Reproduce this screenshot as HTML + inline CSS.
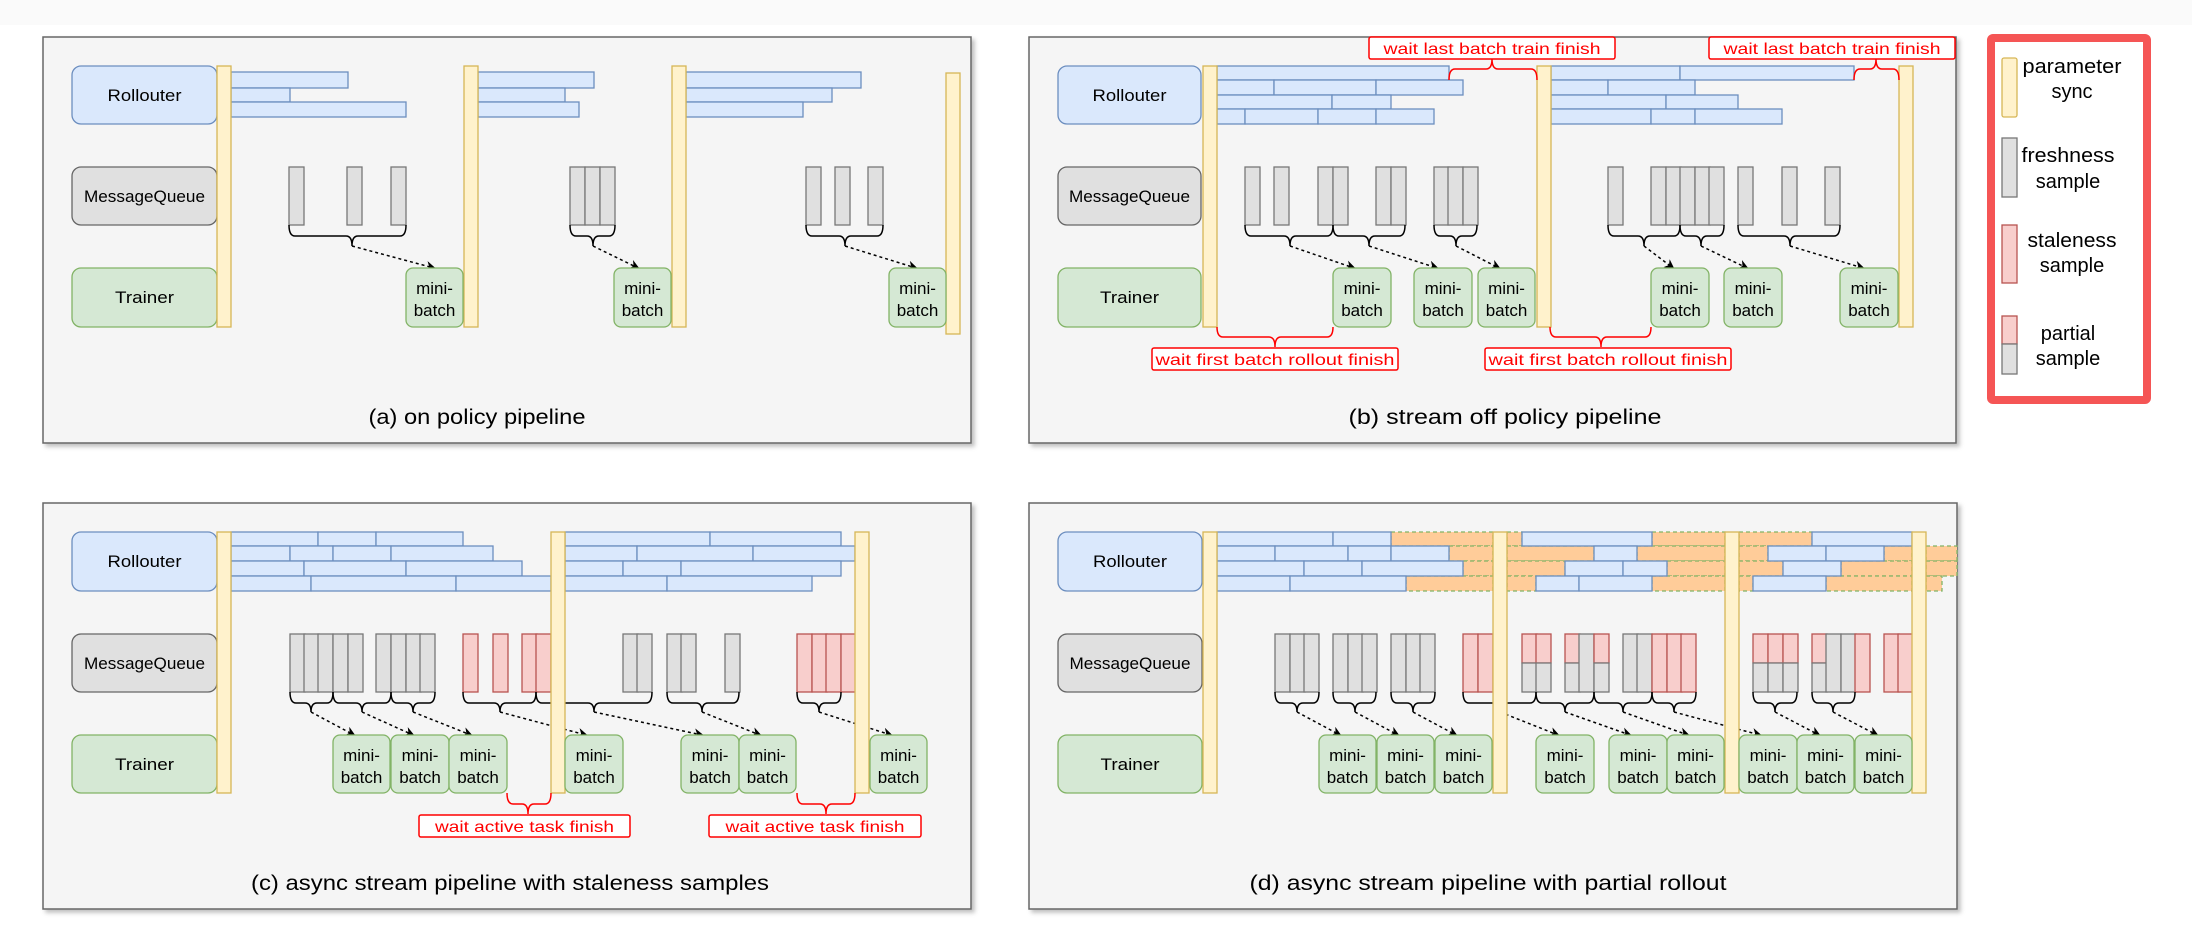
<!DOCTYPE html>
<html><head><meta charset="utf-8"><style>
html,body{margin:0;padding:0;background:#fff}
svg{display:block}
text{font-family:"Liberation Sans",sans-serif;fill:#000}
.pn{fill:#f5f5f5;stroke:#666;stroke-width:1.5}
.b{fill:#dae8fc;stroke:#6c8ebf;stroke-width:1.3}
.g{fill:#e0e0e0;stroke:#777;stroke-width:1.3}
.r{fill:#f8cecc;stroke:#b85450;stroke-width:1.3}
.y{fill:#fff2cc;stroke:#d6b656;stroke-width:1.3}
.t{fill:#d5e8d4;stroke:#82b366;stroke-width:1.3}
.q{fill:#e0e0e0;stroke:#666;stroke-width:1.3}
.o{fill:#ffcc99;stroke:#82b366;stroke-width:1.3;stroke-dasharray:4 3}
.br{fill:none;stroke:#000;stroke-width:1.5}
.ar{stroke:#000;stroke-width:1.5;stroke-dasharray:3 3;marker-end:url(#ah)}
.rb{fill:none;stroke:#f00;stroke-width:1.5}
.rl{fill:#fff;stroke:#f00;stroke-width:1.5}
.rt{fill:#f00;font-size:16px}
.lb{font-size:17px}
.mb{font-size:17px}
.cap{font-size:21px}
.lg{font-size:20px}
</style></head><body>
<svg width="2192" height="938" viewBox="0 0 2192 938" xmlns="http://www.w3.org/2000/svg">
<defs>
<marker id="ah" markerWidth="10" markerHeight="10" refX="8" refY="5" orient="auto" markerUnits="userSpaceOnUse"><path d="M0,0 L10,5 L0,10 L3,5 Z" fill="#000"/></marker>
<filter id="sh" x="-5%" y="-5%" width="110%" height="115%"><feDropShadow dx="3" dy="3" stdDeviation="2" flood-color="#000" flood-opacity="0.25"/></filter>
</defs>
<rect x="0" y="0" width="2192" height="25" fill="#fafafa"/>

<!-- ================= PANEL A ================= -->
<rect class="pn" x="43" y="37" width="928" height="406" filter="url(#sh)"/>
<rect class="b" x="72" y="66" width="145" height="58" rx="9"/>
<rect class="q" x="72" y="167" width="145" height="58" rx="9"/>
<rect class="t" x="72" y="268" width="145" height="59" rx="9"/>
<text class="lb" x="144.5" y="101" text-anchor="middle" textLength="74" lengthAdjust="spacingAndGlyphs">Rollouter</text>
<text class="lb" x="144.5" y="202" text-anchor="middle" textLength="121" lengthAdjust="spacingAndGlyphs" fill="#333">MessageQueue</text>
<text class="lb" x="144.5" y="303" text-anchor="middle" textLength="59" lengthAdjust="spacingAndGlyphs">Trainer</text>
<rect class="b" x="231" y="72" width="117" height="16"/><rect class="b" x="231" y="88" width="59" height="14"/><rect class="b" x="231" y="102" width="175" height="15"/>
<rect class="b" x="478" y="72" width="116" height="16"/><rect class="b" x="478" y="88" width="87" height="14"/><rect class="b" x="478" y="102" width="101" height="15"/>
<rect class="b" x="686" y="72" width="175" height="16"/><rect class="b" x="686" y="88" width="146" height="14"/><rect class="b" x="686" y="102" width="117" height="15"/>
<rect class="y" x="217" y="66" width="14" height="261"/><rect class="y" x="464" y="66" width="14" height="261"/><rect class="y" x="672" y="66" width="14" height="261"/><rect class="y" x="946" y="73" width="14" height="261"/>
<g>
<rect class="g" x="289" y="167" width="15" height="58"/><rect class="g" x="347" y="167" width="15" height="58"/><rect class="g" x="391" y="167" width="15" height="58"/>
<rect class="g" x="570" y="167" width="15" height="58"/><rect class="g" x="585" y="167" width="15" height="58"/><rect class="g" x="600" y="167" width="15" height="58"/>
<rect class="g" x="806" y="167" width="15" height="58"/><rect class="g" x="835" y="167" width="15" height="58"/><rect class="g" x="868" y="167" width="15" height="58"/>
</g>
<path class="br" d="M289,225 Q289,236 295,236 L346,236 Q352,236 352,246 Q352,236 358,236 L400,236 Q406,236 406,225"/>
<path class="br" d="M570,225 Q570,236 576,236 L587,236 Q593,236 593,246 Q593,236 599,236 L609,236 Q615,236 615,225"/>
<path class="br" d="M806,225 Q806,236 812,236 L839,236 Q845,236 845,246 Q845,236 851,236 L877,236 Q883,236 883,225"/>
<line class="ar" x1="352" y1="246" x2="434" y2="268"/><line class="ar" x1="593" y1="246" x2="638" y2="268"/><line class="ar" x1="845" y1="246" x2="916" y2="268"/>
<rect class="t" x="406" y="268" width="57" height="59" rx="7"/><rect class="t" x="614" y="268" width="57" height="59" rx="7"/><rect class="t" x="889" y="268" width="57" height="59" rx="7"/>
<g class="mb" text-anchor="middle">
<text x="434.5" y="294">mini-</text><text x="434.5" y="316">batch</text>
<text x="642.5" y="294">mini-</text><text x="642.5" y="316">batch</text>
<text x="917.5" y="294">mini-</text><text x="917.5" y="316">batch</text>
</g>
<text class="cap" x="477" y="424" text-anchor="middle" textLength="217" lengthAdjust="spacingAndGlyphs">(a) on policy pipeline</text>

<!-- ================= PANEL B ================= -->
<rect class="pn" x="1029" y="37" width="927" height="406" filter="url(#sh)"/>
<rect class="b" x="1058" y="66" width="143" height="58" rx="9"/>
<rect class="q" x="1058" y="167" width="143" height="58" rx="9"/>
<rect class="t" x="1058" y="268" width="143" height="59" rx="9"/>
<text class="lb" x="1129.5" y="101" text-anchor="middle" textLength="74" lengthAdjust="spacingAndGlyphs">Rollouter</text>
<text class="lb" x="1129.5" y="202" text-anchor="middle" textLength="121" lengthAdjust="spacingAndGlyphs" fill="#333">MessageQueue</text>
<text class="lb" x="1129.5" y="303" text-anchor="middle" textLength="59" lengthAdjust="spacingAndGlyphs">Trainer</text>
<rect class="b" x="1217" y="66" width="232" height="14"/>
<rect class="b" x="1217" y="80" width="57" height="15"/><rect class="b" x="1274" y="80" width="102" height="15"/><rect class="b" x="1376" y="80" width="87" height="15"/>
<rect class="b" x="1217" y="95" width="115" height="14"/><rect class="b" x="1332" y="95" width="59" height="14"/>
<rect class="b" x="1217" y="109" width="28" height="15"/><rect class="b" x="1245" y="109" width="73" height="15"/><rect class="b" x="1318" y="109" width="58" height="15"/><rect class="b" x="1376" y="109" width="58" height="15"/>
<rect class="b" x="1551" y="66" width="129" height="14"/><rect class="b" x="1680" y="66" width="174" height="14"/>
<rect class="b" x="1551" y="80" width="57" height="15"/><rect class="b" x="1608" y="80" width="87" height="15"/>
<rect class="b" x="1551" y="95" width="115" height="14"/><rect class="b" x="1666" y="95" width="72" height="14"/>
<rect class="b" x="1551" y="109" width="100" height="15"/><rect class="b" x="1651" y="109" width="44" height="15"/><rect class="b" x="1695" y="109" width="87" height="15"/>
<rect class="y" x="1203" y="66" width="14" height="261"/><rect class="y" x="1537" y="66" width="14" height="261"/><rect class="y" x="1899" y="66" width="14" height="261"/>
<g>
<rect class="g" x="1245" y="167" width="15" height="58"/><rect class="g" x="1274" y="167" width="15" height="58"/><rect class="g" x="1318" y="167" width="15" height="58"/><rect class="g" x="1333" y="167" width="15" height="58"/><rect class="g" x="1376" y="167" width="15" height="58"/><rect class="g" x="1391" y="167" width="15" height="58"/><rect class="g" x="1434" y="167" width="15" height="58"/><rect class="g" x="1448" y="167" width="15" height="58"/><rect class="g" x="1463" y="167" width="15" height="58"/>
<rect class="g" x="1608" y="167" width="15" height="58"/><rect class="g" x="1651" y="167" width="15" height="58"/><rect class="g" x="1666" y="167" width="15" height="58"/><rect class="g" x="1680" y="167" width="15" height="58"/><rect class="g" x="1695" y="167" width="15" height="58"/><rect class="g" x="1709" y="167" width="15" height="58"/><rect class="g" x="1738" y="167" width="15" height="58"/><rect class="g" x="1782" y="167" width="15" height="58"/><rect class="g" x="1825" y="167" width="15" height="58"/>
</g>
<path class="br" d="M1245,225 Q1245,236 1251,236 L1284,236 Q1290,236 1290,246 Q1290,236 1296,236 L1327,236 Q1333,236 1333,225"/>
<path class="br" d="M1333,225 Q1333,236 1339,236 L1363,236 Q1369,236 1369,246 Q1369,236 1375,236 L1399,236 Q1405,236 1405,225"/>
<path class="br" d="M1434,225 Q1434,236 1440,236 L1450,236 Q1456,236 1456,246 Q1456,236 1462,236 L1471,236 Q1477,236 1477,225"/>
<path class="br" d="M1608,225 Q1608,236 1614,236 L1638,236 Q1644,236 1644,246 Q1644,236 1650,236 L1674,236 Q1680,236 1680,225"/>
<path class="br" d="M1680,225 Q1680,236 1686,236 L1695,236 Q1701,236 1701,246 Q1701,236 1707,236 L1718,236 Q1724,236 1724,225"/>
<path class="br" d="M1738,225 Q1738,236 1744,236 L1784,236 Q1790,236 1790,246 Q1790,236 1796,236 L1834,236 Q1840,236 1840,225"/>
<line class="ar" x1="1290" y1="246" x2="1354" y2="268"/><line class="ar" x1="1369" y1="246" x2="1437" y2="268"/><line class="ar" x1="1456" y1="246" x2="1499" y2="268"/>
<line class="ar" x1="1644" y1="246" x2="1673" y2="268"/><line class="ar" x1="1701" y1="246" x2="1747" y2="268"/><line class="ar" x1="1790" y1="246" x2="1863" y2="268"/>
<rect class="t" x="1333" y="268" width="58" height="59" rx="7"/><rect class="t" x="1414" y="268" width="58" height="59" rx="7"/><rect class="t" x="1478" y="268" width="57" height="59" rx="7"/>
<rect class="t" x="1651" y="268" width="58" height="59" rx="7"/><rect class="t" x="1724" y="268" width="58" height="59" rx="7"/><rect class="t" x="1840" y="268" width="58" height="59" rx="7"/>
<g class="mb" text-anchor="middle">
<text x="1362" y="294">mini-</text><text x="1362" y="316">batch</text>
<text x="1443" y="294">mini-</text><text x="1443" y="316">batch</text>
<text x="1506.5" y="294">mini-</text><text x="1506.5" y="316">batch</text>
<text x="1680" y="294">mini-</text><text x="1680" y="316">batch</text>
<text x="1753" y="294">mini-</text><text x="1753" y="316">batch</text>
<text x="1869" y="294">mini-</text><text x="1869" y="316">batch</text>
</g>
<path class="rb" d="M1449,80 Q1449,69 1455,69 L1486,69 Q1492,69 1492,59 Q1492,69 1498,69 L1531,69 Q1537,69 1537,80"/>
<path class="rb" d="M1854,80 Q1854,69 1860,69 L1870,69 Q1876,69 1876,59 Q1876,69 1882,69 L1893,69 Q1899,69 1899,80"/>
<rect class="rl" x="1369" y="37" width="246" height="22" rx="2"/><rect class="rl" x="1709" y="37" width="246" height="22" rx="2"/>
<text class="rt" x="1492" y="54" text-anchor="middle" textLength="217" lengthAdjust="spacingAndGlyphs">wait last batch train finish</text>
<text class="rt" x="1832" y="54" text-anchor="middle" textLength="217" lengthAdjust="spacingAndGlyphs">wait last batch train finish</text>
<path class="rb" d="M1217,327 Q1217,337 1223,337 L1269,337 Q1275,337 1275,347 Q1275,337 1281,337 L1327,337 Q1333,337 1333,327"/>
<path class="rb" d="M1550,327 Q1550,337 1556,337 L1595,337 Q1601,337 1601,347 Q1601,337 1607,337 L1645,337 Q1651,337 1651,327"/>
<rect class="rl" x="1152" y="348" width="246" height="22" rx="2"/><rect class="rl" x="1485" y="348" width="246" height="22" rx="2"/>
<text class="rt" x="1275" y="365" text-anchor="middle" textLength="239" lengthAdjust="spacingAndGlyphs">wait first batch rollout finish</text>
<text class="rt" x="1608" y="365" text-anchor="middle" textLength="239" lengthAdjust="spacingAndGlyphs">wait first batch rollout finish</text>
<text class="cap" x="1505" y="424" text-anchor="middle" textLength="313" lengthAdjust="spacingAndGlyphs">(b) stream off policy pipeline</text>

<!-- ================= LEGEND ================= -->
<rect x="1991" y="38" width="156" height="362" fill="#fff" stroke="#f55555" stroke-width="8" rx="2"/>
<rect class="y" x="2002" y="58" width="15" height="59" rx="2"/>
<rect class="g" x="2002" y="138" width="15" height="59"/>
<rect class="r" x="2002" y="225" width="15" height="58"/>
<rect class="r" x="2002" y="316" width="15" height="28"/><rect class="g" x="2002" y="344" width="15" height="30"/>
<g class="lg" text-anchor="middle">
<text x="2072" y="73" textLength="99" lengthAdjust="spacingAndGlyphs">parameter</text><text x="2072" y="98">sync</text>
<text x="2068" y="162" textLength="93" lengthAdjust="spacingAndGlyphs">freshness</text><text x="2068" y="188">sample</text>
<text x="2072" y="247" textLength="89" lengthAdjust="spacingAndGlyphs">staleness</text><text x="2072" y="272">sample</text>
<text x="2068" y="340">partial</text><text x="2068" y="365">sample</text>
</g>

<!-- ================= PANEL C ================= -->
<rect class="pn" x="43" y="503" width="928" height="406" filter="url(#sh)"/>
<rect class="b" x="72" y="532" width="145" height="59" rx="9"/>
<rect class="q" x="72" y="634" width="145" height="58" rx="9"/>
<rect class="t" x="72" y="735" width="145" height="58" rx="9"/>
<text class="lb" x="144.5" y="567" text-anchor="middle" textLength="74" lengthAdjust="spacingAndGlyphs">Rollouter</text>
<text class="lb" x="144.5" y="669" text-anchor="middle" textLength="121" lengthAdjust="spacingAndGlyphs" fill="#333">MessageQueue</text>
<text class="lb" x="144.5" y="770" text-anchor="middle" textLength="59" lengthAdjust="spacingAndGlyphs">Trainer</text>
<rect class="b" x="231" y="532" width="87" height="14"/><rect class="b" x="318" y="532" width="58" height="14"/><rect class="b" x="376" y="532" width="87" height="14"/>
<rect class="b" x="231" y="546" width="59" height="15"/><rect class="b" x="290" y="546" width="43" height="15"/><rect class="b" x="333" y="546" width="58" height="15"/><rect class="b" x="391" y="546" width="102" height="15"/>
<rect class="b" x="231" y="561" width="73" height="15"/><rect class="b" x="304" y="561" width="102" height="15"/><rect class="b" x="406" y="561" width="116" height="15"/>
<rect class="b" x="231" y="576" width="80" height="15"/><rect class="b" x="311" y="576" width="145" height="15"/><rect class="b" x="456" y="576" width="95" height="15"/>
<rect class="b" x="565" y="532" width="145" height="14"/><rect class="b" x="710" y="532" width="131" height="14"/>
<rect class="b" x="565" y="546" width="72" height="15"/><rect class="b" x="637" y="546" width="116" height="15"/><rect class="b" x="753" y="546" width="102" height="15"/>
<rect class="b" x="565" y="561" width="58" height="15"/><rect class="b" x="623" y="561" width="58" height="15"/><rect class="b" x="681" y="561" width="160" height="15"/>
<rect class="b" x="565" y="576" width="102" height="15"/><rect class="b" x="667" y="576" width="145" height="15"/>
<g>
<rect class="g" x="290" y="634" width="15" height="58"/><rect class="g" x="304" y="634" width="15" height="58"/><rect class="g" x="318" y="634" width="15" height="58"/><rect class="g" x="333" y="634" width="15" height="58"/><rect class="g" x="348" y="634" width="15" height="58"/>
<rect class="g" x="376" y="634" width="15" height="58"/><rect class="g" x="391" y="634" width="15" height="58"/><rect class="g" x="406" y="634" width="15" height="58"/><rect class="g" x="420" y="634" width="15" height="58"/>
<rect class="r" x="463" y="634" width="15" height="58"/><rect class="r" x="493" y="634" width="15" height="58"/><rect class="r" x="522" y="634" width="15" height="58"/><rect class="r" x="536" y="634" width="15" height="58"/>
<rect class="g" x="623" y="634" width="15" height="58"/><rect class="g" x="637" y="634" width="15" height="58"/><rect class="g" x="667" y="634" width="15" height="58"/><rect class="g" x="681" y="634" width="15" height="58"/><rect class="g" x="725" y="634" width="15" height="58"/>
<rect class="r" x="797" y="634" width="15" height="58"/><rect class="r" x="812" y="634" width="15" height="58"/><rect class="r" x="826" y="634" width="15" height="58"/><rect class="r" x="841" y="634" width="15" height="58"/>
</g>
<path class="br" d="M290,692 Q290,703 296,703 L305,703 Q311,703 311,712 Q311,703 317,703 L327,703 Q333,703 333,692"/>
<path class="br" d="M333,692 Q333,703 339,703 L356,703 Q362,703 362,712 Q362,703 368,703 L385,703 Q391,703 391,692"/>
<path class="br" d="M391,692 Q391,703 397,703 L407,703 Q413,703 413,712 Q413,703 419,703 L429,703 Q435,703 435,692"/>
<path class="br" d="M463,692 Q463,703 469,703 L494,703 Q500,703 500,712 Q500,703 506,703 L530,703 Q536,703 536,692"/>
<path class="br" d="M536,692 Q536,703 542,703 L588,703 Q594,703 594,712 Q594,703 600,703 L646,703 Q652,703 652,692"/>
<path class="br" d="M667,692 Q667,703 673,703 L696,703 Q702,703 702,712 Q702,703 708,703 L733,703 Q739,703 739,692"/>
<path class="br" d="M797,692 Q797,703 803,703 L813,703 Q819,703 819,712 Q819,703 825,703 L835,703 Q841,703 841,692"/>
<line class="ar" x1="311" y1="712" x2="354" y2="735"/><line class="ar" x1="362" y1="712" x2="413" y2="735"/><line class="ar" x1="413" y1="712" x2="471" y2="735"/>
<line class="ar" x1="500" y1="712" x2="586" y2="735"/><line class="ar" x1="594" y1="712" x2="702" y2="735"/><line class="ar" x1="702" y1="712" x2="760" y2="735"/><line class="ar" x1="819" y1="712" x2="891" y2="735"/>
<rect class="y" x="217" y="532" width="14" height="261"/><rect class="y" x="551" y="532" width="14" height="261"/><rect class="y" x="855" y="532" width="14" height="261"/>
<rect class="t" x="333" y="735" width="57" height="58" rx="7"/><rect class="t" x="391" y="735" width="58" height="58" rx="7"/><rect class="t" x="449" y="735" width="58" height="58" rx="7"/>
<rect class="t" x="565" y="735" width="58" height="58" rx="7"/><rect class="t" x="681" y="735" width="58" height="58" rx="7"/><rect class="t" x="739" y="735" width="57" height="58" rx="7"/><rect class="t" x="870" y="735" width="57" height="58" rx="7"/>
<g class="mb" text-anchor="middle">
<text x="361.5" y="761">mini-</text><text x="361.5" y="783">batch</text>
<text x="420" y="761">mini-</text><text x="420" y="783">batch</text>
<text x="478" y="761">mini-</text><text x="478" y="783">batch</text>
<text x="594" y="761">mini-</text><text x="594" y="783">batch</text>
<text x="710" y="761">mini-</text><text x="710" y="783">batch</text>
<text x="767.5" y="761">mini-</text><text x="767.5" y="783">batch</text>
<text x="898.5" y="761">mini-</text><text x="898.5" y="783">batch</text>
</g>
<path class="rb" d="M507,793 Q507,804 513,804 L522,804 Q528,804 528,814 Q528,804 534,804 L545,804 Q551,804 551,793"/>
<path class="rb" d="M797,793 Q797,804 803,804 L820,804 Q826,804 826,814 Q826,804 832,804 L849,804 Q855,804 855,793"/>
<rect class="rl" x="419" y="815" width="211" height="22" rx="2"/><rect class="rl" x="709" y="815" width="212" height="22" rx="2"/>
<text class="rt" x="524.5" y="832" text-anchor="middle" textLength="179" lengthAdjust="spacingAndGlyphs">wait active task finish</text>
<text class="rt" x="815" y="832" text-anchor="middle" textLength="179" lengthAdjust="spacingAndGlyphs">wait active task finish</text>
<text class="cap" x="510" y="890" text-anchor="middle" textLength="518" lengthAdjust="spacingAndGlyphs">(c) async stream pipeline with staleness samples</text>

<!-- ================= PANEL D ================= -->
<rect class="pn" x="1029" y="503" width="928" height="406" filter="url(#sh)"/>
<rect class="b" x="1058" y="532" width="144" height="59" rx="9"/>
<rect class="q" x="1058" y="634" width="144" height="58" rx="9"/>
<rect class="t" x="1058" y="735" width="144" height="58" rx="9"/>
<text class="lb" x="1130" y="567" text-anchor="middle" textLength="74" lengthAdjust="spacingAndGlyphs">Rollouter</text>
<text class="lb" x="1130" y="669" text-anchor="middle" textLength="121" lengthAdjust="spacingAndGlyphs" fill="#333">MessageQueue</text>
<text class="lb" x="1130" y="770" text-anchor="middle" textLength="59" lengthAdjust="spacingAndGlyphs">Trainer</text>
<!-- orange partial regions -->
<g>
<rect class="o" x="1391" y="532" width="102" height="14"/><rect class="o" x="1507" y="532" width="15" height="14"/>
<rect class="o" x="1449" y="546" width="44" height="15"/><rect class="o" x="1507" y="546" width="87" height="15"/>
<rect class="o" x="1463" y="561" width="30" height="15"/><rect class="o" x="1507" y="561" width="58" height="15"/>
<rect class="o" x="1406" y="576" width="87" height="15"/><rect class="o" x="1507" y="576" width="29" height="15"/>
<rect class="o" x="1652" y="532" width="73" height="14"/><rect class="o" x="1739" y="532" width="73" height="14"/>
<rect class="o" x="1637" y="546" width="88" height="15"/><rect class="o" x="1739" y="546" width="29" height="15"/>
<rect class="o" x="1667" y="561" width="58" height="15"/><rect class="o" x="1739" y="561" width="44" height="15"/>
<rect class="o" x="1652" y="576" width="73" height="15"/><rect class="o" x="1739" y="576" width="14" height="15"/>
<rect class="o" x="1884" y="546" width="28" height="15"/><rect class="o" x="1926" y="546" width="31" height="15"/>
<rect class="o" x="1841" y="561" width="71" height="15"/><rect class="o" x="1926" y="561" width="31" height="15"/>
<rect class="o" x="1826" y="576" width="86" height="15"/><rect class="o" x="1926" y="576" width="16" height="15"/>
</g>
<rect class="b" x="1217" y="532" width="116" height="14"/><rect class="b" x="1333" y="532" width="58" height="14"/>
<rect class="b" x="1217" y="546" width="58" height="15"/><rect class="b" x="1275" y="546" width="73" height="15"/><rect class="b" x="1348" y="546" width="43" height="15"/><rect class="b" x="1391" y="546" width="58" height="15"/>
<rect class="b" x="1217" y="561" width="87" height="15"/><rect class="b" x="1304" y="561" width="58" height="15"/><rect class="b" x="1362" y="561" width="101" height="15"/>
<rect class="b" x="1217" y="576" width="73" height="15"/><rect class="b" x="1290" y="576" width="116" height="15"/>
<rect class="b" x="1522" y="532" width="130" height="14"/>
<rect class="b" x="1594" y="546" width="43" height="15"/>
<rect class="b" x="1565" y="561" width="58" height="15"/><rect class="b" x="1623" y="561" width="44" height="15"/>
<rect class="b" x="1536" y="576" width="43" height="15"/><rect class="b" x="1579" y="576" width="73" height="15"/>
<rect class="b" x="1812" y="532" width="100" height="14"/>
<rect class="b" x="1768" y="546" width="58" height="15"/><rect class="b" x="1826" y="546" width="58" height="15"/>
<rect class="b" x="1783" y="561" width="58" height="15"/>
<rect class="b" x="1753" y="576" width="73" height="15"/>
<g>
<rect class="g" x="1275" y="634" width="15" height="58"/><rect class="g" x="1290" y="634" width="15" height="58"/><rect class="g" x="1304" y="634" width="15" height="58"/>
<rect class="g" x="1333" y="634" width="15" height="58"/><rect class="g" x="1348" y="634" width="15" height="58"/><rect class="g" x="1362" y="634" width="15" height="58"/>
<rect class="g" x="1391" y="634" width="15" height="58"/><rect class="g" x="1406" y="634" width="15" height="58"/><rect class="g" x="1420" y="634" width="15" height="58"/>
<rect class="r" x="1463" y="634" width="15" height="58"/><rect class="r" x="1478" y="634" width="15" height="58"/>
<rect class="r" x="1522" y="634" width="15" height="29"/><rect class="g" x="1522" y="663" width="15" height="29"/>
<rect class="r" x="1536" y="634" width="15" height="29"/><rect class="g" x="1536" y="663" width="15" height="29"/>
<rect class="r" x="1565" y="634" width="15" height="29"/><rect class="g" x="1565" y="663" width="15" height="29"/>
<rect class="g" x="1579" y="634" width="15" height="58"/>
<rect class="r" x="1594" y="634" width="15" height="29"/><rect class="g" x="1594" y="663" width="15" height="29"/>
<rect class="g" x="1623" y="634" width="15" height="58"/><rect class="g" x="1637" y="634" width="15" height="58"/>
<rect class="r" x="1652" y="634" width="15" height="58"/><rect class="r" x="1667" y="634" width="15" height="58"/><rect class="r" x="1681" y="634" width="15" height="58"/>
<rect class="r" x="1753" y="634" width="15" height="29"/><rect class="g" x="1753" y="663" width="15" height="29"/>
<rect class="r" x="1768" y="634" width="15" height="29"/><rect class="g" x="1768" y="663" width="15" height="29"/>
<rect class="r" x="1783" y="634" width="15" height="29"/><rect class="g" x="1783" y="663" width="15" height="29"/>
<rect class="r" x="1812" y="634" width="15" height="29"/><rect class="g" x="1812" y="663" width="15" height="29"/>
<rect class="g" x="1826" y="634" width="15" height="58"/><rect class="g" x="1841" y="634" width="15" height="58"/>
<rect class="r" x="1855" y="634" width="15" height="58"/>
<rect class="r" x="1884" y="634" width="15" height="58"/><rect class="r" x="1898" y="634" width="15" height="58"/>
</g>
<path class="br" d="M1275,692 Q1275,703 1281,703 L1291,703 Q1297,703 1297,712 Q1297,703 1303,703 L1313,703 Q1319,703 1319,692"/>
<path class="br" d="M1333,692 Q1333,703 1339,703 L1349,703 Q1355,703 1355,712 Q1355,703 1361,703 L1370,703 Q1376,703 1376,692"/>
<path class="br" d="M1391,692 Q1391,703 1397,703 L1407,703 Q1413,703 1413,712 Q1413,703 1419,703 L1429,703 Q1435,703 1435,692"/>
<path class="br" d="M1463,692 Q1463,703 1469,703 L1494,703 Q1500,703 1500,712 Q1500,703 1506,703 L1530,703 Q1536,703 1536,692"/>
<path class="br" d="M1536,692 Q1536,703 1542,703 L1559,703 Q1565,703 1565,712 Q1565,703 1571,703 L1588,703 Q1594,703 1594,692"/>
<path class="br" d="M1594,692 Q1594,703 1600,703 L1617,703 Q1623,703 1623,712 Q1623,703 1629,703 L1646,703 Q1652,703 1652,692"/>
<path class="br" d="M1652,692 Q1652,703 1658,703 L1668,703 Q1674,703 1674,712 Q1674,703 1680,703 L1690,703 Q1696,703 1696,692"/>
<path class="br" d="M1753,692 Q1753,703 1759,703 L1769,703 Q1775,703 1775,712 Q1775,703 1781,703 L1791,703 Q1797,703 1797,692"/>
<path class="br" d="M1812,692 Q1812,703 1818,703 L1827,703 Q1833,703 1833,712 Q1833,703 1839,703 L1849,703 Q1855,703 1855,692"/>
<line class="ar" x1="1297" y1="712" x2="1340" y2="735"/><line class="ar" x1="1355" y1="712" x2="1398" y2="735"/><line class="ar" x1="1413" y1="712" x2="1456" y2="735"/>
<line class="ar" x1="1500" y1="712" x2="1558" y2="735"/><line class="ar" x1="1565" y1="712" x2="1630" y2="735"/><line class="ar" x1="1623" y1="712" x2="1688" y2="735"/><line class="ar" x1="1674" y1="712" x2="1760" y2="735"/>
<line class="ar" x1="1775" y1="712" x2="1819" y2="735"/><line class="ar" x1="1833" y1="712" x2="1877" y2="735"/>
<rect class="y" x="1203" y="532" width="14" height="261"/><rect class="y" x="1493" y="532" width="14" height="261"/><rect class="y" x="1725" y="532" width="14" height="261"/><rect class="y" x="1912" y="532" width="14" height="261"/>
<rect class="t" x="1319" y="735" width="57" height="58" rx="7"/><rect class="t" x="1377" y="735" width="57" height="58" rx="7"/><rect class="t" x="1435" y="735" width="57" height="58" rx="7"/>
<rect class="t" x="1536" y="735" width="58" height="58" rx="7"/><rect class="t" x="1609" y="735" width="58" height="58" rx="7"/><rect class="t" x="1667" y="735" width="57" height="58" rx="7"/>
<rect class="t" x="1739" y="735" width="58" height="58" rx="7"/><rect class="t" x="1797" y="735" width="57" height="58" rx="7"/><rect class="t" x="1855" y="735" width="57" height="58" rx="7"/>
<g class="mb" text-anchor="middle">
<text x="1347.5" y="761">mini-</text><text x="1347.5" y="783">batch</text>
<text x="1405.5" y="761">mini-</text><text x="1405.5" y="783">batch</text>
<text x="1463.5" y="761">mini-</text><text x="1463.5" y="783">batch</text>
<text x="1565" y="761">mini-</text><text x="1565" y="783">batch</text>
<text x="1638" y="761">mini-</text><text x="1638" y="783">batch</text>
<text x="1695.5" y="761">mini-</text><text x="1695.5" y="783">batch</text>
<text x="1768" y="761">mini-</text><text x="1768" y="783">batch</text>
<text x="1825.5" y="761">mini-</text><text x="1825.5" y="783">batch</text>
<text x="1883.5" y="761">mini-</text><text x="1883.5" y="783">batch</text>
</g>
<text class="cap" x="1488" y="890" text-anchor="middle" textLength="477" lengthAdjust="spacingAndGlyphs">(d) async stream pipeline with partial rollout</text>
</svg>
</body></html>
